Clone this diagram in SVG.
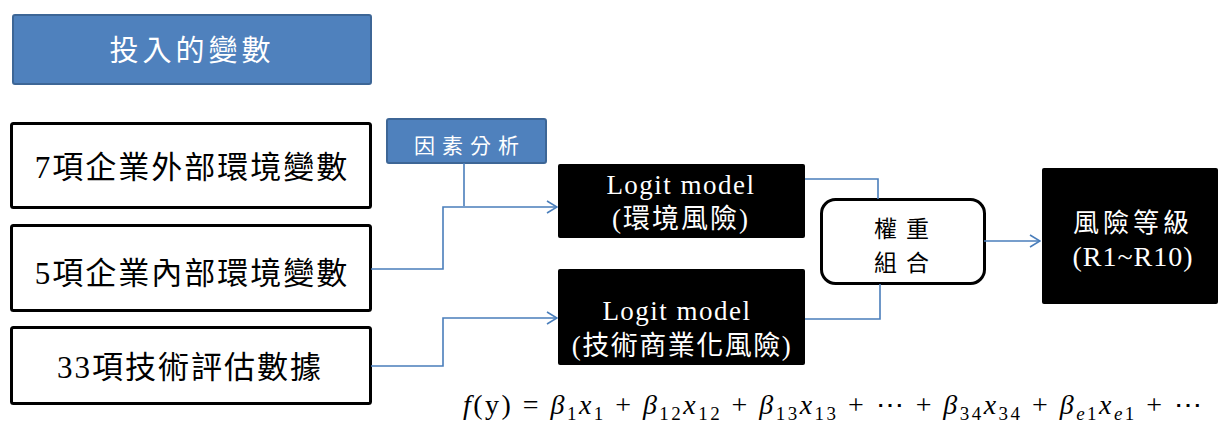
<svg xmlns="http://www.w3.org/2000/svg" width="1221" height="424" viewBox="0 0 1221 424">
<defs>
<marker id="arr" markerWidth="12" markerHeight="14" refX="11" refY="7" orient="auto" markerUnits="userSpaceOnUse">
<path d="M1,1 L11,7 L1,13" fill="none" stroke="#4A7EBB" stroke-width="1.6"/>
</marker>
</defs>
<style>
.blue{fill:#4F81BD;stroke:#3D6696;stroke-width:2}
.wbox{fill:#fff;stroke:#000;stroke-width:3}
.bbox{fill:#000}
.cjk{font-family:"Liberation Serif","Noto Sans CJK TC",serif}
.wt{fill:#fff}
.bt{fill:#000}
.conn{fill:none;stroke:#4A7EBB;stroke-width:1.6}
.sub{font-size:19px}
.it{font-style:italic}
</style>
<g id="title">
<rect class="blue" x="13" y="15" width="358" height="69" rx="2"/>
<text class="cjk wt" x="192" y="61" font-size="29" letter-spacing="4" text-anchor="middle">投入的變數</text>
</g>
<g id="ext">
<rect class="wbox" x="11.5" y="123.5" width="359" height="84" rx="2"/>
<text class="cjk bt" x="192" y="178" font-size="31" letter-spacing="2" text-anchor="middle">7項企業外部環境變數</text>
</g>
<g id="int">
<rect class="wbox" x="11.5" y="225.5" width="359" height="85" rx="2"/>
<text class="cjk bt" x="192" y="284" font-size="31" letter-spacing="2" text-anchor="middle">5項企業內部環境變數</text>
</g>
<g id="tech">
<rect class="wbox" x="11.5" y="327.5" width="359" height="76" rx="2"/>
<text class="cjk bt" x="190" y="378" font-size="31" letter-spacing="2" text-anchor="middle">33項技術評估數據</text>
</g>
<g id="factor">
<rect class="blue" x="387" y="119" width="159" height="44" rx="2"/>
<text class="cjk wt" x="470" y="153" font-size="21" letter-spacing="7" text-anchor="middle">因素分析</text>
</g>
<g id="logit1">
<rect class="bbox" x="558" y="164" width="247" height="74" rx="2"/>
<text class="cjk wt" x="681" y="194" font-size="27" letter-spacing="1.5" text-anchor="middle">Logit model</text>
<text class="cjk wt" x="681" y="228" font-size="27" letter-spacing="2" text-anchor="middle">(環境風險)</text>
</g>
<g id="logit2">
<rect class="bbox" x="558" y="269" width="247" height="96" rx="2"/>
<text class="cjk wt" x="677" y="320" font-size="27" letter-spacing="1.5" text-anchor="middle">Logit model</text>
<text class="cjk wt" x="682" y="355" font-size="27" letter-spacing="1.5" text-anchor="middle">(技術商業化風險)</text>
</g>
<g id="weight">
<rect class="wbox" x="821.5" y="199.5" width="163" height="84" rx="14"/>
<text class="cjk bt" x="906" y="237" font-size="23" letter-spacing="9" text-anchor="middle">權重</text>
<text class="cjk bt" x="906" y="271" font-size="23" letter-spacing="9" text-anchor="middle">組合</text>
</g>
<g id="level">
<rect class="bbox" x="1042" y="168" width="176" height="136" rx="2"/>
<text class="cjk wt" x="1133" y="232" font-size="26" letter-spacing="4" text-anchor="middle">風險等級</text>
<text class="cjk wt" x="1133" y="266" font-size="28" letter-spacing="1" text-anchor="middle">(R1~R10)</text>
</g>
<g id="connectors">
<path class="conn" d="M464,163 V206"/>
<path class="conn" d="M371,269 H443 V207 H557" marker-end="url(#arr)"/>
<path class="conn" d="M371,366 H443 V318 H557" marker-end="url(#arr)"/>
<path class="conn" d="M805,179 H878 V199"/>
<path class="conn" d="M880,284 V319 H805"/>
<path class="conn" d="M984,241 H1040" marker-end="url(#arr)"/>
</g>
<g id="formula">
<text font-family="Liberation Serif, serif" font-size="28" x="463" y="414" fill="#000" textLength="739" lengthAdjust="spacing"><tspan class="it">f</tspan>(y) = <tspan class="it">β</tspan><tspan class="sub" dy="6">1</tspan><tspan class="it" dy="-6">x</tspan><tspan class="sub" dy="6">1</tspan><tspan dy="-6"> + </tspan><tspan class="it">β</tspan><tspan class="sub" dy="6">12</tspan><tspan class="it" dy="-6">x</tspan><tspan class="sub" dy="6">12</tspan><tspan dy="-6"> + </tspan><tspan class="it">β</tspan><tspan class="sub" dy="6">13</tspan><tspan class="it" dy="-6">x</tspan><tspan class="sub" dy="6">13</tspan><tspan dy="-6"> + ⋯ + </tspan><tspan class="it">β</tspan><tspan class="sub" dy="6">34</tspan><tspan class="it" dy="-6">x</tspan><tspan class="sub" dy="6">34</tspan><tspan dy="-6"> + </tspan><tspan class="it">β</tspan><tspan class="sub it" dy="6">e</tspan><tspan class="sub">1</tspan><tspan class="it" dy="-6">x</tspan><tspan class="sub it" dy="6">e</tspan><tspan class="sub">1</tspan><tspan dy="-6"> + ⋯</tspan></text>
</g>
</svg>
